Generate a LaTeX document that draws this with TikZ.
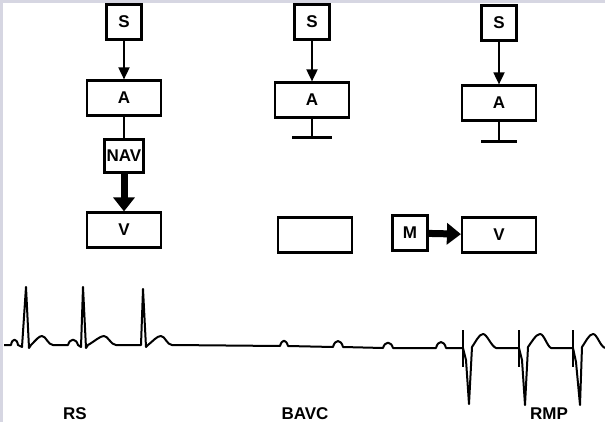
\documentclass[tikz,border=0pt]{standalone}
\usepackage{fontspec}
\setmainfont{Liberation Sans}
\usetikzlibrary{arrows.meta}
\definecolor{stripgray}{RGB}{214,214,226}

\begin{document}
\begin{tikzpicture}[
    x=1pt, y=-1pt,
    box/.style={rectangle, draw=black, line width=2.2pt, minimum width=74pt, minimum height=35pt, inner sep=0pt, font=\fontsize{17}{19}\selectfont\bfseries},
    sbox/.style={box, minimum width=35pt},
    conn/.style={-{Triangle[length=12pt, width=11pt]}, line width=1.8pt},
    fat/.style={-{Triangle[length=14pt, width=21pt]}, line width=7pt},
    ground/.style={line width=2.2pt},
    ecg/.style={line width=2pt, line join=round},
    tracename/.style={font=\fontsize{17}{19}\selectfont\bfseries}
]
\useasboundingbox (0,0) rectangle (605,422);
\fill[stripgray] (0,0) rectangle (3,422);
\fill[stripgray] (0,0) rectangle (605,3);

% ==================== Sinus rhythm (left) ====================
\node[sbox] (S1) at (124,22) {S};
\node[box] (A1) at (124,98) {A};
\node[box, minimum width=39pt, minimum height=33pt] (NAV) at (124,156) {NAV};
\node[box] (V1) at (124,230) {V};

\draw[conn] (S1) -- (A1);
\draw[ground] (A1) -- (NAV);
\draw[fat] (NAV) -- (V1);

% ==================== AV block (middle) ====================
\node[sbox] (S2) at (312,22) {S};
\node[box] (A2) at (312,100) {A};
\node[box] (E2) at (315,235) {};

\draw[conn] (S2) -- (A2);
\draw[ground] (A2.south) -- ++(0,19) coordinate (g2);
\draw[ground] (g2) ++(-20,0) -- ++(40,0);

% ==================== Pacemaker (right) ====================
\node[sbox] (S3) at (499,23) {S};
\node[box] (A3) at (499,103) {A};
\node[sbox] (M) at (410,233) {M};
\node[box] (V3) at (499,235) {V};

\draw[conn] (S3) -- (A3);
\draw[ground] (A3.south) -- ++(0,20) coordinate (g3);
\draw[ground] (g3) ++(-18,0) -- ++(36,0);
\draw[fat] (M) -- (V3);

% ==================== ECG trace ====================
\draw[ecg] (4,345) -- (11,345)
  .. controls (12,338) and (17,338) .. (18,345) -- (22,347) -- (26,287) -- (29,348) -- (31,345)
  .. controls (36,340) and (39,336) .. (42,336) .. controls (46,336) and (48,345) .. (53,345)
  -- (68,345) .. controls (70,338) and (76,338) .. (78,345) -- (81,347) -- (83,287) -- (86,348) -- (88,345)
  .. controls (95,341) and (100,336) .. (104,336) .. controls (108,336) and (111,345) .. (116,345)
  -- (141,345) -- (143,289) -- (146,347) -- (148,345)
  .. controls (153,341) and (157,336) .. (161,336) .. controls (165,336) and (167,345) .. (172,345)
  -- (280,346) .. controls (282,339) and (286,339) .. (288,346)
  -- (333,347) .. controls (335,339) and (341,339) .. (343,347)
  -- (383,348) .. controls (385,341) and (391,341) .. (393,348)
  -- (436,348) .. controls (438,340) and (444,340) .. (446,348)
  -- (463,348) -- (466,360) -- (469,404) -- (472,347)
  .. controls (475,343) and (479,334) .. (483,334) .. controls (487,334) and (491,346) .. (496,348)
  -- (519,348) -- (522,360) -- (525,405) -- (528,347)
  .. controls (531,343) and (536,334) .. (540,334) .. controls (544,334) and (547,346) .. (551,348)
  -- (573,348) -- (576,362) -- (580,405) -- (582,347)
  .. controls (585,343) and (589,334) .. (593,334) .. controls (597,334) and (600,346) .. (605,348);

% pacing spikes
\foreach \sx in {463,519,573}
  \draw[ecg] (\sx,330) -- (\sx,367);

\node[tracename] (rs) at (75,414) {RS};
\node[tracename] (bavc) at (305,414) {BAVC};
\node[tracename] (rmp) at (549,414) {RMP};

\end{tikzpicture}
\end{document}
